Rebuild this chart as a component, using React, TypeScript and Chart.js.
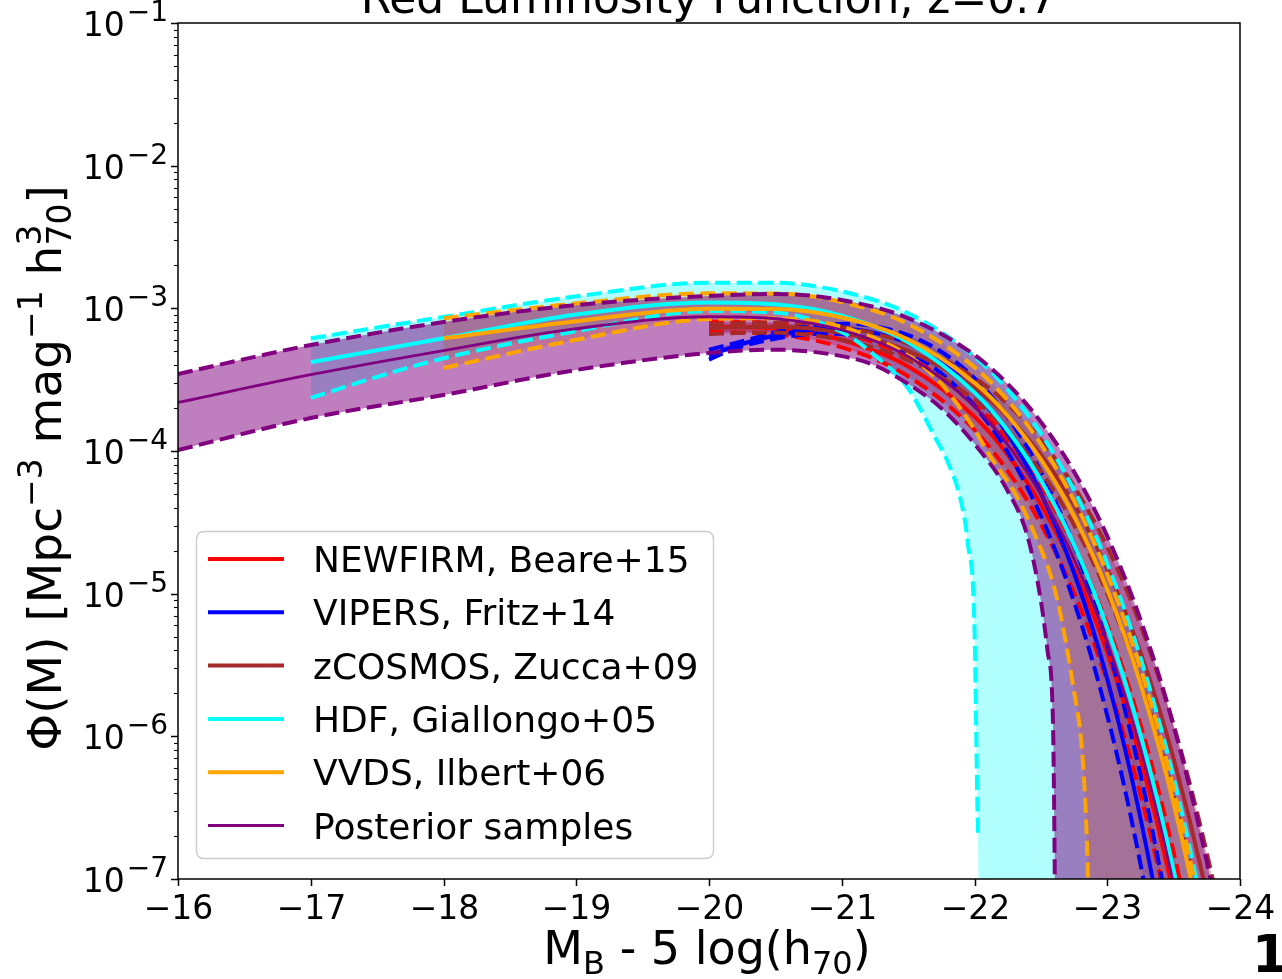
import React, { useEffect, useRef } from "react";
import { Chart, registerables } from "chart.js";

Chart.register(...registerables);

const FONT = '"DejaVu Sans", sans-serif';

// ---------- Data (absolute magnitude M_B - 5 log h70, log10 Phi) ----------
// Posterior samples (purple)
const postMag = [-16, -17, -18, -19, -20, -20.5, -21, -21.5, -22, -22.25, -22.5, -22.75, -23, -23.25, -23.5, -23.75, -24];
const postMidLog = [-3.66, -3.465, -3.296, -3.143, -3.059, -3.072, -3.152, -3.337, -3.689, -3.956, -4.305, -4.757, -5.34, -6.086, -7.038, -8.25, -9.788];
const postHighLog = [-3.46, -3.257, -3.096, -2.977, -2.913, -2.899, -2.942, -3.068, -3.327, -3.529, -3.796, -4.145, -4.597, -5.18, -5.926, -6.878, -8.09];
const postLowMag = [-16, -17, -18, -19, -20, -20.5, -21, -21.25, -21.5, -21.75, -22, -22.25, -22.4, -22.5, -22.55, -22.59, -22.6, -22.61, -22.63, -24.5];
const postLowLog = [-3.993, -3.769, -3.607, -3.432, -3.313, -3.29, -3.335, -3.4, -3.53, -3.7, -3.95, -4.28, -4.6, -5.05, -5.4, -5.86, -6.5, -7.6, -9.5, -14];

// HDF, Giallongo+05 (cyan)
const hdfMag = [-17, -18, -19, -20, -20.5, -21, -21.5, -22, -22.25, -22.5, -22.75, -23, -23.25, -23.5, -23.75, -24];
const hdfMidLog = [-3.378, -3.21, -3.043, -2.959, -2.972, -3.052, -3.237, -3.589, -3.856, -4.205, -4.657, -5.24, -5.986, -6.938, -8.15, -9.688];
const hdfHighLog = [-3.21, -3.06, -2.916, -2.82, -2.821, -2.881, -3.035, -3.338, -3.57, -3.876, -4.274, -4.788, -5.447, -6.29, -7.365, -8.73];
const hdfLowMag = [-17, -17.5, -18, -19, -20, -20.5, -21, -21.25, -21.5, -21.6, -21.7, -21.8, -21.9, -21.95, -22, -22.02, -22.026, -22.035, -22.06, -24.5];
const hdfLowLog = [-3.628, -3.48, -3.35, -3.16, -3.019, -3.03, -3.166, -3.33, -3.56, -3.72, -3.9, -4.08, -4.36, -4.65, -5.25, -6.4, -6.7, -7.6, -10, -14];

// VVDS, Ilbert+06 (orange)
const vvdsMag = [-18, -19, -20, -20.5, -21, -21.5, -22, -22.25, -22.5, -22.75, -23, -23.25, -23.5, -23.75, -24];
const vvdsMidLog = [-3.21, -3.09, -3.003, -3.004, -3.064, -3.218, -3.521, -3.753, -4.059, -4.457, -4.971, -5.63, -6.473, -7.548, -8.913];
const vvdsHighLog = [-3.07, -2.965, -2.895, -2.896, -2.956, -3.11, -3.413, -3.645, -3.951, -4.349, -4.863, -5.522, -6.365, -7.44, -8.805];
const vvdsLowMag = [-18, -19, -20, -20.5, -21, -21.5, -21.75, -22, -22.12, -22.32, -22.47, -22.57, -22.64, -22.74, -22.81, -22.84, -22.855, -22.87, -22.9, -24.5];
const vvdsLowLog = [-3.418, -3.22, -3.075, -3.07, -3.13, -3.33, -3.53, -3.85, -4.04, -4.32, -4.62, -4.86, -5.11, -5.63, -6.1, -6.57, -7.0, -7.6, -9.5, -14];

// NEWFIRM, Beare+15 (red)
const nfMag = [-20, -20.5, -21, -21.5, -22, -22.25, -22.5, -22.75, -23, -23.25, -23.5, -23.75, -24];
const nfMidLog = [-3.129, -3.142, -3.222, -3.407, -3.759, -4.026, -4.375, -4.827, -5.41, -6.156, -7.108, -8.32, -9.858];
const nfHighMag = [-20, -20.5625, -21.0625, -21.5625, -22.0625, -22.3125, -22.5625, -22.8125, -23.0625, -23.3125, -23.5625, -23.8125, -24.0625];
const nfHighLog = [-3.092, -3.107, -3.187, -3.372, -3.724, -3.991, -4.34, -4.792, -5.375, -6.121, -7.073, -8.285, -9.823];
const nfLowMag = [-20, -20.4375, -20.9375, -21.4375, -21.9375, -22.1875, -22.4375, -22.6875, -22.9375, -23.1875, -23.4375, -23.6875, -23.9375, -24.5];
const nfLowLog = [-3.165, -3.177, -3.257, -3.442, -3.794, -4.061, -4.41, -4.862, -5.445, -6.191, -7.143, -8.355, -9.893, -14];

// VIPERS, Fritz+14 (blue)
const vpMag = [-20, -20.25, -20.5, -20.75, -21, -21.25, -21.5, -21.75, -22, -22.25, -22.5, -22.75, -23, -23.25, -23.5, -23.75];
const vpMidLog = [-3.329, -3.25, -3.189, -3.152, -3.143, -3.172, -3.246, -3.378, -3.584, -3.882, -4.295, -4.855, -5.598, -6.572, -7.838, -9.47];
const vpHighMag = [-20, -20.3125, -20.5625, -20.8125, -21.0625, -21.3125, -21.5625, -21.8125, -22.0625, -22.3125, -22.5625, -22.8125, -23.0625, -23.3125, -23.5625, -23.8125];
const vpHighLog = [-3.29, -3.215, -3.154, -3.117, -3.108, -3.137, -3.211, -3.343, -3.549, -3.847, -4.26, -4.82, -5.563, -6.537, -7.803, -9.435];
const vpLowMag = [-20, -20.1875, -20.4375, -20.6875, -20.9375, -21.1875, -21.4375, -21.6875, -21.9375, -22.1875, -22.4375, -22.6875, -22.9375, -23.1875, -23.4375, -23.6875, -24.5];
const vpLowLog = [-3.36, -3.285, -3.224, -3.187, -3.178, -3.207, -3.281, -3.413, -3.619, -3.917, -4.33, -4.89, -5.633, -6.607, -7.873, -9.505, -14];

// zCOSMOS, Zucca+09 (brown)
const zcMag = [-20, -20.5, -21, -21.5, -22, -22.25, -22.5, -22.75, -23, -23.25, -23.5, -23.75, -24];
const zcMidLog = [-3.139, -3.129, -3.172, -3.298, -3.557, -3.759, -4.026, -4.375, -4.827, -5.41, -6.156, -7.108, -8.32];
const zcHighMag = [-20, -20.5625, -21.0625, -21.5625, -22.0625, -22.3125, -22.5625, -22.8125, -23.0625, -23.3125, -23.5625, -23.8125, -24.0625];
const zcHighLog = [-3.11, -3.099, -3.142, -3.268, -3.527, -3.729, -3.996, -4.345, -4.797, -5.38, -6.126, -7.078, -8.29];
const zcLowMag = [-20, -20.4375, -20.9375, -21.4375, -21.9375, -22.1875, -22.4375, -22.6875, -22.9375, -23.1875, -23.4375, -23.6875, -23.9375, -24.5];
const zcLowLog = [-3.18, -3.169, -3.212, -3.338, -3.597, -3.799, -4.066, -4.415, -4.867, -5.45, -6.196, -7.148, -8.36, -12];

// Axes / labels
const xTickValues = [-16, -17, -18, -19, -20, -21, -22, -23, -24];
const xTickLabels = ["\u221216", "\u221217", "\u221218", "\u221219", "\u221220", "\u221221", "\u221222", "\u221223", "\u221224"];
const yDecadeExps = [-7, -6, -5, -4, -3, -2, -1];
const yDecadeLabels = ["\u22127", "\u22126", "\u22125", "\u22124", "\u22123", "\u22122", "\u22121"];
const titleText = "Red Luminosity Function, z=0.7";

const legendLabels = ["NEWFIRM, Beare+15", "VIPERS, Fritz+14", "zCOSMOS, Zucca+09", "HDF, Giallongo+05", "VVDS, Ilbert+06", "Posterior samples"];
const legendColors = ["#ff0000", "#0000ff", "#a52a2a", "#00ffff", "#ffa500", "#800080"];
const legendWidths = [4, 4, 4, 4, 4, 2.8];

const PURPLE = "#800080", ORANGE = "#ffa500", CYAN = "#00ffff", BROWN = "#a52a2a", BLUE = "#0000ff", RED = "#ff0000";

function pts(mags: number[], logs: number[]) {
  return mags.map((m, i) => ({ x: m, y: Math.pow(10, logs[i]) }));
}

function ds(mags: number[], logs: number[], color: string, width: number, dashed: boolean, fillTarget?: number, fillColor?: string, hideBelow?: number): any {
  const d: any = {
    data: pts(mags, logs),
    borderColor: color,
    borderWidth: width,
    borderDash: dashed ? [15, 6.5] : [],
    pointRadius: 0,
    pointHoverRadius: 0,
    cubicInterpolationMode: "monotone",
    fill: fillTarget === undefined ? false : { target: fillTarget, above: fillColor, below: fillColor },
    backgroundColor: fillColor ?? "rgba(0,0,0,0)",
  };
  if (hideBelow !== undefined) {
    d.segment = {
      borderColor: (c: any) => (c.p0.parsed.y < hideBelow ? "rgba(0,0,0,0)" : undefined),
    };
  }
  return d;
}

function buildDatasets() {
  return [
    ds(postMag, postHighLog, PURPLE, 4, true, 2, "rgba(128,0,128,0.5)"), // 0
    ds(postMag, postMidLog, PURPLE, 2.8, false), // 1
    ds(postLowMag, postLowLog, PURPLE, 4, true), // 2
    ds(vvdsMag, vvdsHighLog, ORANGE, 4, true, 5, "rgba(255,165,0,0.3)"), // 3
    ds(vvdsMag, vvdsMidLog, ORANGE, 4, false), // 4
    ds(vvdsLowMag, vvdsLowLog, ORANGE, 4, true), // 5
    ds(hdfMag, hdfHighLog, CYAN, 4, true, 8, "rgba(0,255,255,0.3)"), // 6
    ds(hdfMag, hdfMidLog, CYAN, 4, false), // 7
    ds(hdfLowMag, hdfLowLog, CYAN, 4, true, undefined, undefined, 2.5e-7), // 8
    ds(zcHighMag, zcHighLog, BROWN, 4, true, 11, "rgba(165,42,42,0.3)"), // 9
    ds(zcMag, zcMidLog, BROWN, 4, false), // 10
    ds(zcLowMag, zcLowLog, BROWN, 4, true), // 11
    ds(vpHighMag, vpHighLog, BLUE, 4, true, 14, "rgba(0,0,255,0.3)"), // 12
    ds(vpMag, vpMidLog, BLUE, 4, false), // 13
    ds(vpLowMag, vpLowLog, BLUE, 4, true), // 14
    ds(nfHighMag, nfHighLog, RED, 4, true, 17, "rgba(255,0,0,0.3)"), // 15
    ds(nfMag, nfMidLog, RED, 4, false), // 16
    ds(nfLowMag, nfLowLog, RED, 4, true), // 17
  ];
}

type Piece = { t: string; s: number; dy: number; noAdv?: boolean };

function piecesWidth(ctx: CanvasRenderingContext2D, pieces: Piece[]) {
  let w = 0;
  for (const p of pieces) {
    ctx.font = `${p.s}px ${FONT}`;
    if (!p.noAdv) w += ctx.measureText(p.t).width;
  }
  return w;
}

function drawPieces(ctx: CanvasRenderingContext2D, pieces: Piece[], x: number, y: number) {
  let cx = x;
  ctx.textAlign = "left";
  for (const p of pieces) {
    ctx.font = `${p.s}px ${FONT}`;
    ctx.fillText(p.t, cx, y + p.dy);
    if (!p.noAdv) cx += ctx.measureText(p.t).width;
  }
}

const xLabelPieces: Piece[] = [
  { t: "M", s: 46, dy: 0 },
  { t: "B", s: 32, dy: 10 },
  { t: " - 5 log(h", s: 46, dy: 0 },
  { t: "70", s: 32, dy: 10 },
  { t: ")", s: 46, dy: 0 },
];

const yLabelPieces: Piece[] = [
  { t: "\u03A6(M) [Mpc", s: 47, dy: 0 },
  { t: "\u22123", s: 33, dy: -19 },
  { t: " mag", s: 47, dy: 0 },
  { t: "\u22121", s: 33, dy: -19 },
  { t: " h", s: 47, dy: 0 },
  { t: "3", s: 33, dy: -20, noAdv: true },
  { t: "70", s: 33, dy: 10 },
  { t: "]", s: 47, dy: 0 },
];

const decorPlugin = {
  id: "decor",
  afterDraw(chart: any) {
    const ctx: CanvasRenderingContext2D = chart.ctx;
    const a = chart.chartArea;
    const xs = chart.scales.x;
    const ys = chart.scales.y;
    ctx.save();
    ctx.fillStyle = "#000";
    ctx.strokeStyle = "#000";

    // frame
    ctx.lineWidth = 1.5;
    ctx.strokeRect(a.left, a.top, a.right - a.left, a.bottom - a.top);

    // x ticks
    ctx.font = `33px ${FONT}`;
    ctx.textAlign = "center";
    ctx.textBaseline = "alphabetic";
    xTickValues.forEach((v, i) => {
      const px = Math.round(xs.getPixelForValue(v)) + 0.5;
      ctx.beginPath();
      ctx.moveTo(px, a.bottom);
      ctx.lineTo(px, a.bottom + 7);
      ctx.stroke();
      ctx.fillText(xTickLabels[i], px, a.bottom + 40);
    });

    // y ticks
    yDecadeExps.forEach((e, i) => {
      const py = Math.round(ys.getPixelForValue(Math.pow(10, e))) + 0.5;
      ctx.lineWidth = 1.5;
      ctx.beginPath();
      ctx.moveTo(a.left, py);
      ctx.lineTo(a.left - 7, py);
      ctx.stroke();
      if (e < -1) {
        for (let k = 2; k <= 9; k++) {
          const my = Math.round(ys.getPixelForValue(k * Math.pow(10, e))) + 0.5;
          ctx.lineWidth = 1.1;
          ctx.beginPath();
          ctx.moveTo(a.left, my);
          ctx.lineTo(a.left - 4, my);
          ctx.stroke();
        }
      }
      // label 10^e
      ctx.textAlign = "left";
      ctx.font = `28px ${FONT}`;
      const supW = ctx.measureText(yDecadeLabels[i]).width;
      ctx.font = `33px ${FONT}`;
      const baseW = ctx.measureText("10").width;
      const right = a.left - 10;
      const x0 = right - supW - baseW - 2;
      ctx.fillText("10", x0, py + 12);
      ctx.font = `28px ${FONT}`;
      ctx.fillText(yDecadeLabels[i], x0 + baseW + 2, py - 3);
    });

    // title (cut at top)
    ctx.font = `44px ${FONT}`;
    ctx.textAlign = "center";
    ctx.fillText(titleText, (a.left + a.right) / 2, 13);

    // x label
    const xw = piecesWidth(ctx, xLabelPieces);
    drawPieces(ctx, xLabelPieces, 707 - xw / 2, 964);

    // y label
    const yw = piecesWidth(ctx, yLabelPieces);
    ctx.save();
    ctx.translate(61, 468);
    ctx.rotate(-Math.PI / 2);
    drawPieces(ctx, yLabelPieces, -yw / 2, 0);
    ctx.restore();

    // legend
    const lx = 196.5, ly = 531.5, lw = 517, lh = 327, r = 8;
    ctx.beginPath();
    ctx.moveTo(lx + r, ly);
    ctx.lineTo(lx + lw - r, ly);
    ctx.quadraticCurveTo(lx + lw, ly, lx + lw, ly + r);
    ctx.lineTo(lx + lw, ly + lh - r);
    ctx.quadraticCurveTo(lx + lw, ly + lh, lx + lw - r, ly + lh);
    ctx.lineTo(lx + r, ly + lh);
    ctx.quadraticCurveTo(lx, ly + lh, lx, ly + lh - r);
    ctx.lineTo(lx, ly + r);
    ctx.quadraticCurveTo(lx, ly, lx + r, ly);
    ctx.closePath();
    ctx.fillStyle = "rgba(255,255,255,0.8)";
    ctx.fill();
    ctx.strokeStyle = "#cccccc";
    ctx.lineWidth = 1.4;
    ctx.stroke();
    ctx.font = `36px ${FONT}`;
    ctx.textAlign = "left";
    legendLabels.forEach((lab, i) => {
      const cy = 559 + i * 53.3;
      ctx.strokeStyle = legendColors[i];
      ctx.lineWidth = legendWidths[i];
      ctx.setLineDash([]);
      ctx.beginPath();
      ctx.moveTo(208, cy);
      ctx.lineTo(284, cy);
      ctx.stroke();
      ctx.fillStyle = "#000";
      ctx.fillText(lab, 313, cy + 13);
    });

    // partial bold "1" at bottom right
    ctx.font = `bold 52px ${FONT}`;
    ctx.fillText("1", 1252, 972);
    ctx.restore();
  },
};

export default function App() {
  const ref = useRef<HTMLCanvasElement>(null);
  useEffect(() => {
    document.body.style.margin = "0";
    document.body.style.overflow = "hidden";
    const canvas = ref.current!;
    const chart = new Chart(canvas, {
      type: "line",
      data: { datasets: buildDatasets() },
      options: {
        responsive: false,
        animation: false,
        devicePixelRatio: 1,
        layout: { padding: { left: 178, right: 42, top: 23, bottom: 100 } },
        scales: {
          x: { type: "linear", min: -24, max: -16, reverse: true, display: false },
          y: { type: "logarithmic", min: 1e-7, max: 1e-1, display: false },
        },
        plugins: {
          legend: { display: false },
          tooltip: { enabled: false },
          filler: { drawTime: "beforeDatasetsDraw", propagate: false },
        } as any,
        elements: { point: { radius: 0 } },
      },
      plugins: [decorPlugin],
    } as any);
    return () => chart.destroy();
  }, []);
  return (
    <canvas
      ref={ref}
      width={1282}
      height={979}
      style={{ position: "absolute", left: 0, top: 0, width: 1282, height: 979 }}
    />
  );
}
